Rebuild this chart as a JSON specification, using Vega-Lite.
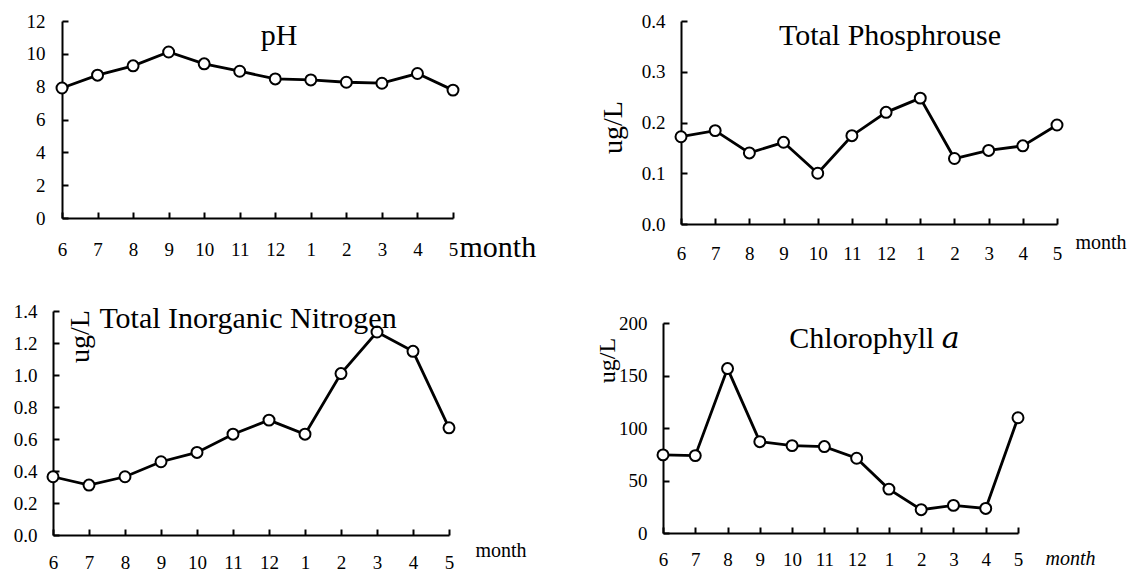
{
  "$schema": "https://vega.github.io/schema/vega-lite/v6.json",
  "background": "white",
  "padding": {"left": 13, "top": 12, "right": 0, "bottom": 0},
  "autosize": {"type": "pad"},
  "data": {
    "values": [
      {"month": "6", "pH": 7.92, "TP": 0.172, "TIN": 0.364, "Chl": 74.4},
      {"month": "7", "pH": 8.70, "TP": 0.184, "TIN": 0.312, "Chl": 73.7},
      {"month": "8", "pH": 9.27, "TP": 0.140, "TIN": 0.364, "Chl": 156.6},
      {"month": "9", "pH": 10.11, "TP": 0.161, "TIN": 0.458, "Chl": 87.0},
      {"month": "10", "pH": 9.39, "TP": 0.100, "TIN": 0.516, "Chl": 83.2},
      {"month": "11", "pH": 8.94, "TP": 0.174, "TIN": 0.630, "Chl": 82.3},
      {"month": "12", "pH": 8.47, "TP": 0.220, "TIN": 0.718, "Chl": 71.2},
      {"month": "1", "pH": 8.41, "TP": 0.248, "TIN": 0.630, "Chl": 41.8},
      {"month": "2", "pH": 8.27, "TP": 0.129, "TIN": 1.009, "Chl": 22.2},
      {"month": "3", "pH": 8.21, "TP": 0.145, "TIN": 1.269, "Chl": 26.3},
      {"month": "4", "pH": 8.80, "TP": 0.154, "TIN": 1.148, "Chl": 23.4},
      {"month": "5", "pH": 7.79, "TP": 0.195, "TIN": 0.670, "Chl": 109.8}
    ]
  },
  "bounds": "flush",
  "columns": 2,
  "spacing": {"row": 87, "column": 214},
  "concat": [
    {
      "width": 396,
      "height": 197,
      "title": {"text": "pH", "dx": 28, "dy": 43},
      "encoding": {
        "x": {"field": "month", "type": "ordinal", "sort": null,
              "scale": {"type": "point", "padding": 0, "range": [9, 400]},
              "axis": {"title": "month", "titleX": 406, "titleY": 29, "titleFontSize": 30, "labelPadding": 28}},
        "y": {"field": "pH", "type": "quantitative",
              "scale": {"domain": [0, 12], "nice": false},
              "axis": {"values": [0, 2, 4, 6, 8, 10, 12], "title": null, "offset": -9, "labelPadding": 23}}
      },
      "layer": [
        {"mark": {"type": "line", "color": "black", "strokeWidth": 2.8}},
        {"mark": {"type": "point", "filled": true, "fill": "white", "stroke": "black", "strokeWidth": 2, "size": 120, "opacity": 1}}
      ]
    },
    {
      "width": 394,
      "height": 203,
      "title": {"text": "Total Phosphrouse", "dx": 30, "dy": 43},
      "encoding": {
        "x": {"field": "month", "type": "ordinal", "sort": null,
              "scale": {"type": "point", "padding": 0, "range": [18, 394]},
              "axis": {"title": "month", "titleX": 412, "titleY": 18, "labelPadding": 26}},
        "y": {"field": "TP", "type": "quantitative",
              "scale": {"domain": [0, 0.4], "nice": false},
              "axis": {"values": [0, 0.1, 0.2, 0.3, 0.4], "format": ".1f", "offset": -18, "title": "ug/L", "titleX": -68, "titleY": 106}}
      },
      "layer": [
        {"mark": {"type": "line", "color": "black", "strokeWidth": 2.8}},
        {"mark": {"type": "point", "filled": true, "fill": "white", "stroke": "black", "strokeWidth": 2, "size": 120, "opacity": 1}}
      ]
    },
    {
      "width": 396,
      "height": 224,
      "title": {"text": "Total Inorganic Nitrogen", "dx": -3, "dy": 36},
      "encoding": {
        "x": {"field": "month", "type": "ordinal", "sort": null,
              "scale": {"type": "point", "padding": 0},
              "axis": {"title": "month", "titleX": 422, "titleY": 15, "labelPadding": 24}},
        "y": {"field": "TIN", "type": "quantitative",
              "scale": {"domain": [0, 1.4], "nice": false},
              "axis": {"values": [0, 0.2, 0.4, 0.6, 0.8, 1.0, 1.2, 1.4], "format": ".1f", "title": "ug/L", "titleX": 27, "titleY": 25}}
      },
      "layer": [
        {"mark": {"type": "line", "color": "black", "strokeWidth": 2.8}},
        {"mark": {"type": "point", "filled": true, "fill": "white", "stroke": "black", "strokeWidth": 2, "size": 120, "opacity": 1}}
      ]
    },
    {
      "width": 355,
      "height": 222,
      "title": {"text": "Chlorophyll 𝑎", "dx": 34, "dy": 47},
      "encoding": {
        "x": {"field": "month", "type": "ordinal", "sort": null,
              "scale": {"type": "point", "padding": 0},
              "axis": {"title": "month", "titleX": 382, "titleY": 25, "titleFontStyle": "italic", "labelPadding": 23}},
        "y": {"field": "Chl", "type": "quantitative",
              "scale": {"domain": [0, 200], "nice": false, "range": [222, 12]},
              "axis": {"values": [0, 50, 100, 150, 200], "title": "ug/L", "titleX": -56, "titleY": 49, "titleFontSize": 24}}
      },
      "layer": [
        {"mark": {"type": "line", "color": "black", "strokeWidth": 2.8}},
        {"mark": {"type": "point", "filled": true, "fill": "white", "stroke": "black", "strokeWidth": 2, "size": 120, "opacity": 1}}
      ]
    }
  ],
  "config": {
    "view": {"stroke": null},
    "style": {
      "guide-label": {"font": "Liberation Serif"},
      "guide-title": {"font": "Liberation Serif"}
    },
    "axis": {
      "grid": false,
      "domainColor": "black",
      "domainWidth": 2,
      "tickColor": "black",
      "tickWidth": 2,
      "tickSize": -6,
      "labelFont": "Liberation Serif",
      "labelFontSize": 19,
      "labelColor": "black",
      "titleFont": "Liberation Serif",
      "titleFontWeight": "normal",
      "titleColor": "black"
    },
    "axisX": {
      "labelFont": "Liberation Serif",
      "labelAngle": 0,
      "labelFlush": false,
      "titleAlign": "left",
      "titleBaseline": "middle",
      "titleAngle": 0,
      "titleFontSize": 20,
      "labelPadding": 26
    },
    "axisY": {
      "labelFont": "Liberation Serif",
      "titleAngle": -90,
      "titleAlign": "center",
      "titleBaseline": "middle",
      "titleFontSize": 28,
      "labelPadding": 22
    },
    "title": {
      "font": "Liberation Serif, DejaVu Serif, serif",
      "fontSize": 30,
      "fontWeight": "normal",
      "color": "black",
      "anchor": "middle",
      "frame": "group",
      "offset": 0
    }
  }
}
